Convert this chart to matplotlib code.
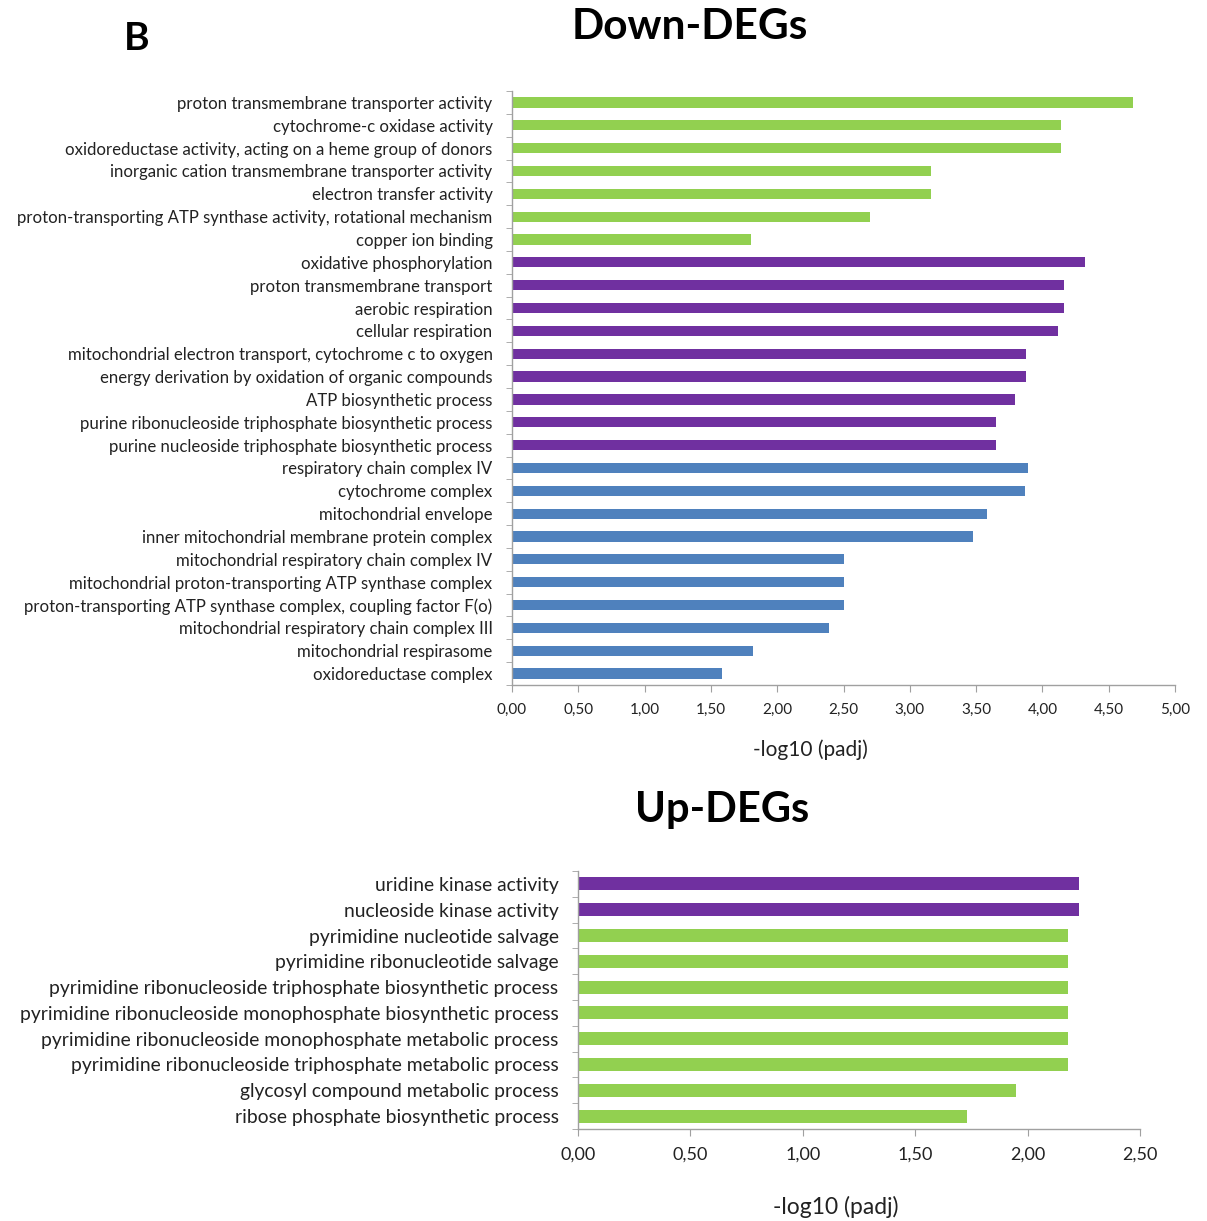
import matplotlib

matplotlib.use("Agg")
import matplotlib.pyplot as plt
import numpy as np
from matplotlib.ticker import FuncFormatter, FixedLocator

GREEN = "#92D050"
PURPLE = "#7030A0"
BLUE = "#4F81BD"

down_terms = [
    "proton transmembrane transporter activity",
    "cytochrome-c oxidase activity",
    "oxidoreductase activity, acting on a heme group of donors",
    "inorganic cation transmembrane transporter activity",
    "electron transfer activity",
    "proton-transporting ATP synthase activity, rotational mechanism",
    "copper ion binding",
    "oxidative phosphorylation",
    "proton transmembrane transport",
    "aerobic respiration",
    "cellular respiration",
    "mitochondrial electron transport, cytochrome c to oxygen",
    "energy derivation by oxidation of organic compounds",
    "ATP biosynthetic process",
    "purine ribonucleoside triphosphate biosynthetic process",
    "purine nucleoside triphosphate biosynthetic process",
    "respiratory chain complex IV",
    "cytochrome complex",
    "mitochondrial envelope",
    "inner mitochondrial membrane protein complex",
    "mitochondrial respiratory chain complex IV",
    "mitochondrial proton-transporting ATP synthase complex",
    "proton-transporting ATP synthase complex, coupling factor F(o)",
    "mitochondrial respiratory chain complex III",
    "mitochondrial respirasome",
    "oxidoreductase complex",
]
down_values = [4.68, 4.14, 4.14, 3.16, 3.16, 2.70, 1.80,
               4.32, 4.16, 4.16, 4.12, 3.88, 3.88, 3.79, 3.65, 3.65,
               3.89, 3.87, 3.58, 3.48, 2.50, 2.50, 2.50, 2.39, 1.82, 1.58]
down_groups = ["MF"] * 7 + ["BP"] * 9 + ["CC"] * 10

up_terms = [
    "uridine kinase activity",
    "nucleoside kinase activity",
    "pyrimidine nucleotide salvage",
    "pyrimidine ribonucleotide salvage",
    "pyrimidine ribonucleoside triphosphate biosynthetic process",
    "pyrimidine ribonucleoside monophosphate biosynthetic process",
    "pyrimidine ribonucleoside monophosphate metabolic process",
    "pyrimidine ribonucleoside triphosphate metabolic process",
    "glycosyl compound metabolic process",
    "ribose phosphate biosynthetic process",
]
up_values = [2.23, 2.23, 2.18, 2.18, 2.18, 2.18, 2.18, 2.18, 1.95, 1.73]
up_groups = ["MF", "MF"] + ["BP"] * 8

group_colors = {"MF": GREEN, "BP": PURPLE, "CC": BLUE}
# the two panels colour the categories differently
up_group_colors = {"MF": PURPLE, "BP": GREEN}

plt.rcParams["font.family"] = ["Lato", "DejaVu Sans"]

W, H = 1207, 1221
fig = plt.figure(figsize=(W / 100, H / 100), dpi=100)


def comma_fmt(x, pos):
    return f"{x:.2f}".replace(".", ",")


def draw_panel(ax, terms, values, colors, xmax, bar_h, fs_label, fs_tick):
    n = len(terms)
    y = np.arange(n)
    ax.barh(y, values, height=bar_h, color=colors)
    ax.set_ylim(n - 0.5, -0.5)
    ax.set_xlim(0, xmax)
    ax.set_yticks(y)
    ax.set_yticklabels(terms, fontsize=fs_label, color="#222222")
    ax.tick_params(axis="y", length=0, pad=14)
    ax.yaxis.set_minor_locator(FixedLocator(np.arange(-0.5, n, 1.0)))
    ax.tick_params(axis="y", which="minor", length=4, color="#a0a0a0", direction="out")
    ax.set_xticks(np.arange(0, xmax + 0.001, 0.5))
    ax.xaxis.set_major_formatter(FuncFormatter(comma_fmt))
    ax.tick_params(axis="x", length=5, color="#a0a0a0", labelsize=fs_tick, labelcolor="#222222", pad=8)
    for s in ("top", "right"):
        ax.spines[s].set_visible(False)
    for s in ("left", "bottom"):
        ax.spines[s].set_color("#a0a0a0")
        ax.spines[s].set_linewidth(1.0)


# top panel
ax1 = fig.add_axes([512 / W, 1 - 685 / H, (1175 - 512) / W, (685 - 91) / H])
draw_panel(ax1, down_terms, down_values, [group_colors[g] for g in down_groups],
           5.0, 0.45, 12.1, 11)

# bottom panel
ax2 = fig.add_axes([578 / W, 1 - 1129 / H, (1140 - 578) / W, (1129 - 871) / H])
draw_panel(ax2, up_terms, up_values, [up_group_colors[g] for g in up_groups],
           2.5, 0.5, 13.9, 13)

fig.text(810 / W, 1 - 750 / H, "-log10 (padj)", fontsize=15, ha="center", va="center", color="#222222")
fig.text(836 / W, 1 - 1207 / H, "-log10 (padj)", fontsize=16.5, ha="center", va="center", color="#222222")

fig.text(137 / W, 1 - 38 / H, "B", fontsize=28, fontweight="bold", ha="center", va="center")
fig.text(690 / W, 1 - 27 / H, "Down-DEGs", fontsize=30.5, fontweight="bold", ha="center", va="center")
fig.text(722 / W, 1 - 810 / H, "Up-DEGs", fontsize=30, fontweight="bold", ha="center", va="center")

fig.savefig("out.png", dpi=100)
